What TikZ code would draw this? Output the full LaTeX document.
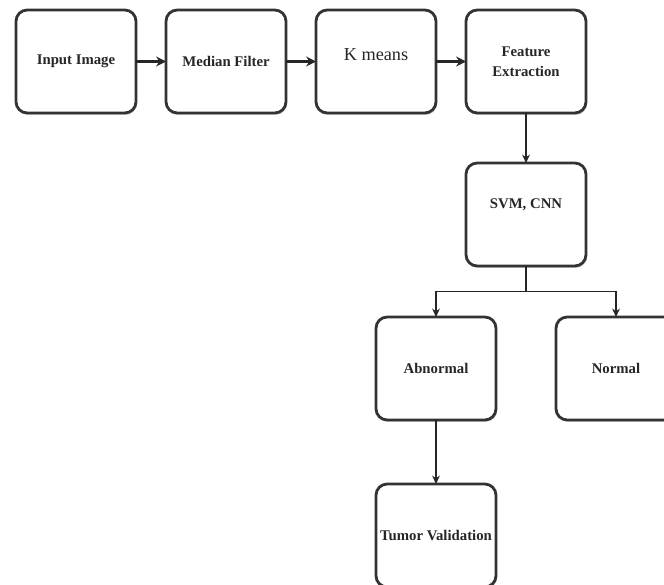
\documentclass[tikz,border=0pt]{standalone}
\usepackage{fontspec}
\setmainfont{Liberation Serif}
\usetikzlibrary{arrows.meta,positioning,shadows}

\begin{document}
\begin{tikzpicture}[
    box/.style={draw=black!80, line width=2pt, fill=white, rounded corners=0.28cm,
      minimum width=3cm, minimum height=2.575cm, align=center, inner sep=2pt, outer sep=0pt,
      font=\bfseries\fontsize{10.5}{14}\selectfont, text=black!85,
      drop shadow={shadow xshift=0.7pt, shadow yshift=-1.4pt, opacity=0.35}},
    harr/.style={-{Stealth[length=7pt,width=7pt]}, line width=2pt, draw=black!85},
    varr/.style={-{Stealth[length=6pt,width=5.5pt]}, line width=1.3pt, draw=black!85},
    node distance=0.75cm]
  \useasboundingbox (0,0) rectangle (16.6,-14.6);
  \node[box] (input) at (1.9,-1.5375) {Input Image};
  \node[box, right=of input] (median) {Median Filter};
  \node[box, right=of median, font=\fontsize{13}{15}\selectfont, text height=8.5pt, text depth=10pt] (kmeans) {K means};
  \node[box, right=of kmeans] (feat) {Feature\\Extraction};
  \node[box, below=1.25cm of feat, text height=7pt, text depth=15pt] (svm) {SVM, CNN};
  \coordinate[below=0.6375cm of svm] (split);
  \node[box, below left=1.275cm and -0.75cm of svm] (abn) {Abnormal};
  \node[box, below right=1.275cm and -0.75cm of svm] (norm) {Normal};
  \node[box, below=1.6cm of abn] (tumor) {Tumor Validation};
  \draw[harr] (input) -- (median);
  \draw[harr] (median) -- (kmeans);
  \draw[harr] (kmeans) -- (feat);
  \draw[varr] (feat) -- (svm);
  \draw[line width=1.3pt, draw=black!85] (svm) -- (split);
  \draw[varr] (split) -| (abn);
  \draw[varr] (split) -| (norm);
  \draw[varr] (abn) -- (tumor);
\end{tikzpicture}
\end{document}
